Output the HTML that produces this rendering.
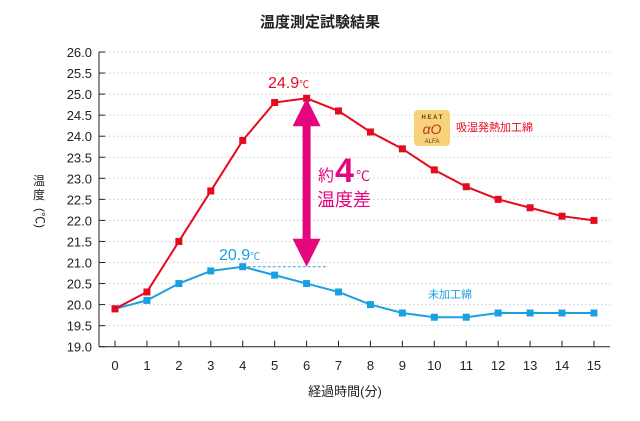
<!DOCTYPE html>
<html><head><meta charset="utf-8"><style>
body{margin:0;background:#fff;}
svg text{font-family:"Liberation Sans","Noto Sans CJK JP",sans-serif;}
</style></head><body>
<svg width="640" height="416" viewBox="0 0 640 416">
<g id="g"></g>
</svg>
<script>
const xCats=[0,1,2,3,4,5,6,7,8,9,10,11,12,13,14,15];
const redVals=[19.9,20.3,21.5,22.7,23.9,24.8,24.9,24.6,24.1,23.7,23.2,22.8,22.5,22.3,22.1,22.0];
const blueVals=[19.9,20.1,20.5,20.8,20.9,20.7,20.5,20.3,20.0,19.8,19.7,19.7,19.8,19.8,19.8,19.8];
const yTicks=[19.0,19.5,20.0,20.5,21.0,21.5,22.0,22.5,23.0,23.5,24.0,24.5,25.0,25.5,26.0];
const X=i=>115+i*31.93;
const Y=v=>52+(26-v)*42.1;
const NS='http://www.w3.org/2000/svg';
const g=document.getElementById('g');
function el(t,a,p){const e=document.createElementNS(NS,t);for(const k in a)e.setAttribute(k,a[k]);(p||g).appendChild(e);return e;}
function txt(s,a){const e=el('text',a);e.textContent=s;return e;}
function txt2(s1,s2,size2,a){const e=el('text',a);e.textContent=s1;const sp=el('tspan',{'font-size':size2},e);sp.textContent=s2;return e;}
let t;
t=txt('温度測定試験結果',{x:320,y:27,'text-anchor':'middle','font-size':15,'font-weight':'bold',fill:'#222'});


yTicks.forEach(v=>{
 if(v>19){const l=el('line',{x1:105,x2:610,y1:Y(v),y2:Y(v),stroke:'#ccc','stroke-dasharray':'1.5,2.5'});
 
 }
 el('line',{x1:99,x2:105,y1:Y(v),y2:Y(v),stroke:'#222'});
 const tt=txt(v.toFixed(1),{x:92,y:Y(v)+5,'text-anchor':'end','font-size':13,fill:'#222'});
 
 
});
el('line',{x1:99,x2:99,y1:Y(26),y2:Y(19),stroke:'#222'});
el('line',{x1:99,x2:610,y1:Y(19),y2:Y(19),stroke:'#222'});
xCats.forEach((c,i)=>{
 el('line',{x1:X(i),x2:X(i),y1:Y(19)-6,y2:Y(19),stroke:'#222'});
 const tt=txt(String(c),{x:X(i),y:370,'text-anchor':'middle','font-size':13,fill:'#222'});
 
 
});
t=txt('経過時間(分)',{x:345,y:396,'text-anchor':'middle','font-size':13,fill:'#222'});


t=txt('温',{x:39,y:185,'text-anchor':'middle','font-size':12,fill:'#222'});


txt('度',{x:39,y:199,'text-anchor':'middle','font-size':12,fill:'#222'});
txt('(℃)',{x:39,y:218,'font-size':12,fill:'#222',transform:'rotate(90 39 218)','text-anchor':'middle','dominant-baseline':'middle'});
function series(vals,color,name){
 const p=el('polyline',{points:vals.map((v,i)=>X(i)+','+Y(v)).join(' '),fill:'none',stroke:color,'stroke-width':2});
 
 
 vals.forEach((v,i)=>{const r=el('rect',{x:X(i)-3.5,y:Y(v)-3.5,width:7,height:7,fill:color});
 
 });
}
el('line',{x1:X(4),x2:328,y1:Y(20.9),y2:Y(20.9),stroke:'#29a3e0','stroke-dasharray':'3,2'});
series(blueVals,'#1aa0e0','untreated');
series(redVals,'#e60a1e','treated');
const ax=X(6);
el('rect',{x:ax-4,y:Y(24.9)+26,width:8,height:Y(20.9)-Y(24.9)-52,fill:'#e4067c'});
el('polygon',{points:`${ax},${Y(24.9)} ${ax-14},${Y(24.9)+28} ${ax+14},${Y(24.9)+28}`,fill:'#e4067c'});
el('polygon',{points:`${ax},${Y(20.9)} ${ax-14},${Y(20.9)-28} ${ax+14},${Y(20.9)-28}`,fill:'#e4067c'});
t=txt2('24.9','℃',10,{x:268,y:88,'font-size':16,fill:'#e60a1e'});
t=txt2('20.9','℃',10,{x:219,y:260,'font-size':16,fill:'#1aa0e0'});
txt('約',{x:318,y:181,'font-size':16,fill:'#e4067c'});
txt('4',{x:335,y:182,'font-size':34,'font-weight':'bold',fill:'#e4067c'});
txt('℃',{x:356,y:181,'font-size':14,fill:'#e4067c'});
t=txt('温度差',{x:317,y:206,'font-size':18,fill:'#e4067c'});
el('rect',{x:414,y:110,width:36,height:36,rx:4,fill:'#f6d27a'});
txt('H E A T',{x:432,y:119,'font-size':6,'text-anchor':'middle',fill:'#6a3a10','font-weight':'bold'});
txt('αO',{x:432,y:134,'font-size':14,'text-anchor':'middle',fill:'#c0361a','font-style':'italic'});
txt('ALFA',{x:432,y:143,'font-size':6,'text-anchor':'middle',fill:'#6a3a10'});
t=txt('吸湿発熱加工綿',{x:456,y:131,'font-size':11,fill:'#e60a1e'});
t=txt('未加工綿',{x:428,y:298,'font-size':11,fill:'#1aa0e0'});
</script>
</body></html>
